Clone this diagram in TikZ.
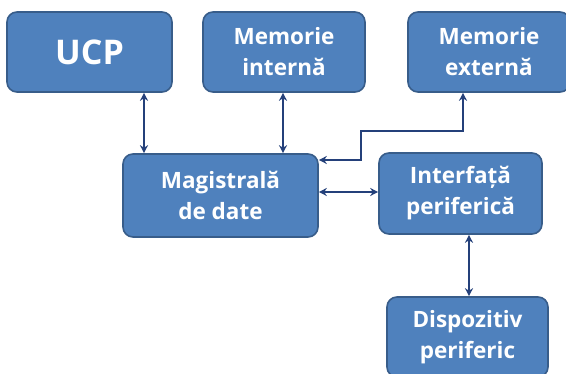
\documentclass[tikz,border=0pt]{standalone}
\usepackage{fontspec}
\setmainfont{Open Sans}
\usetikzlibrary{arrows.meta}
\definecolor{box blue}{RGB}{79, 129, 189}
\definecolor{box edge}{RGB}{56, 93, 138}
\definecolor{link blue}{RGB}{36, 64, 122}

\begin{document}
\begin{tikzpicture}[
        x=1pt, y=-1pt,
        unit/.style={
            draw=box edge,
            fill=box blue,
            line width=1.6pt,
            rounded corners=10pt,
            text=white,
            font=\fontsize{22.5}{31}\selectfont\bfseries,
            align=center,
            inner sep=0pt
        },
        link/.style={
            draw=link blue,
            line width=1.6pt,
            {Stealth[length=8pt,width=8pt]}-{Stealth[length=8pt,width=8pt]}
        }
    ]
    \useasboundingbox (0,0) rectangle (566,374);

    % top row
    \node[unit, minimum width=165pt, minimum height=80pt,
          font=\fontsize{34}{40}\selectfont\bfseries] (ucp) at (89.5,52) {UCP};
    \node[unit, minimum width=162pt, minimum height=80pt] (memint) at (284,52) {Memorie\\internă};
    \node[unit, minimum width=162pt, minimum height=80pt] (memext) at (489,52) {Memorie\\externă};

    % middle row
    \node[unit, minimum width=195pt, minimum height=83pt] (bus) at (220.5,195.5) {Magistrală\\de date};
    \node[unit, minimum width=163pt, minimum height=81pt] (iface) at (460.5,193.5) {Interfață\\periferică};

    % bottom
    \node[unit, minimum width=161pt, minimum height=80pt] (dev) at (467.5,337) {Dispozitiv\\periferic};

    % bends of the line to the external memory
    \coordinate (extdown) at (463,131);
    \coordinate (extleft) at (361,131);

    \draw[link] (ucp.south -| 144,0) -- (bus.north -| 144,0);
    \draw[link] (memint.south -| 283,0) -- (bus.north -| 283,0);
    \draw[link] (memext.south -| extdown) -- (extdown) -- (extleft) |- (bus.east |- 0,160);
    \draw[link] (bus.east |- 0,192) -- (iface.west |- 0,192);
    \draw[link] (iface.south -| 469,0) -- (dev.north -| 469,0);
\end{tikzpicture}
\end{document}
